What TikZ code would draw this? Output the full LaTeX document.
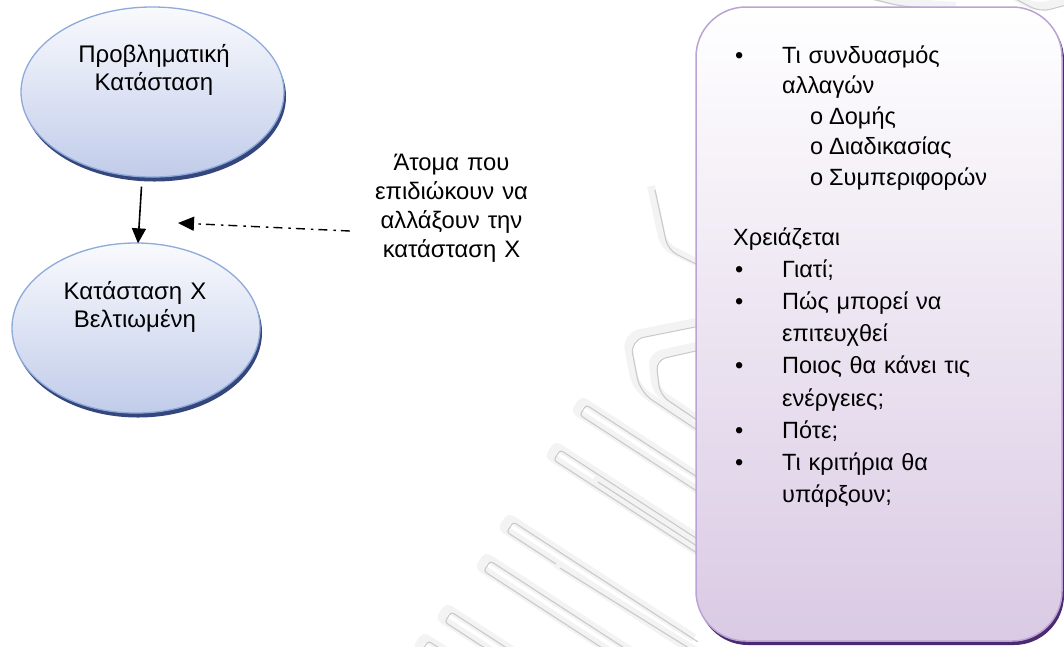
\documentclass[tikz,border=0pt]{standalone}
\usepackage{fontspec}
\setmainfont{Liberation Sans}
\usetikzlibrary{shapes.geometric,arrows.meta,calc}

\definecolor{ellborder}{HTML}{8EAADB}
\definecolor{elltop}{HTML}{F9FAFD}
\definecolor{ellbot}{HTML}{C1CCEA}
\definecolor{ellshade}{HTML}{34467C}
\definecolor{boxborder}{HTML}{BBA3D5}
\definecolor{boxbot}{HTML}{DACAE4}
\definecolor{boxshade}{HTML}{4B2A71}
\definecolor{wmgray}{HTML}{CACACA}
\definecolor{wmhalo}{HTML}{F3F3F3}

% one watermark stroke: a long loop closed at its left end
\newcommand\wmhair[4]{%
  \draw[wmline, shift={(#1,#2)}, rotate=#3] (#4,-6) -- (0,-6) -- (0,6) -- (#4,6);}
% bullet and sub-bullet lead-ins for the requirements list
\newcommand\bul{\makebox[49pt][l]{\hspace{2pt}•}}
\newcommand\cont{\hspace*{49pt}}
\newcommand\subbul{\hspace*{77pt}\makebox[19pt][l]{o}}

\begin{document}
\begin{tikzpicture}[x=1pt,y=-1pt,
  stateell/.style={ellipse, draw=ellborder, line width=1.3pt,
    top color=elltop, bottom color=ellbot, inner sep=0pt},
  notebox/.style={rectangle, rounded corners=50pt, draw=boxborder, line width=1.5pt,
    top color=white, bottom color=boxbot, inner sep=0pt},
  bodytext/.style={font=\fontsize{24}{28}\selectfont, inner sep=0pt, align=center},
  solidarrow/.style={line width=1.6pt, -{Triangle[length=15pt,width=14pt]}},
  dasharrow/.style={line width=1.4pt, dash pattern=on 9pt off 5pt on 2.5pt off 6pt,
    -{Triangle[length=16pt,width=14pt]}},
  wmline/.style={draw=wmgray, line width=1.1pt, rounded corners=3pt,
    preaction={draw=wmhalo, line width=8pt, transform canvas={shift={(-4pt,4pt)}}}}]

\useasboundingbox (0,0) rectangle (1064,646);
\fill[white] (0,0) rectangle (1064,646);

% faint background watermark strokes
\wmhair{583}{410}{-33}{150}
\wmhair{557}{455}{-33}{180}
\wmhair{510}{527}{-33}{220}
\wmhair{487}{566}{-33}{230}
\wmhair{448}{617}{-33}{230}
\wmhair{425}{646}{-33}{200}
\draw[wmline] (598,482) -- (700,548);
\draw[wmline] (560,568) -- (700,655);
\draw[wmline, rounded corners=14pt] (700,326) -- (630,340) -- (640,392) -- (700,432);
\draw[wmline, rounded corners=10pt] (700,350) -- (656,360) -- (660,395) -- (700,422);
\draw[wmline, rounded corners=10pt] (655,190) -- (668,250) -- (700,266);
\draw[wmline, rounded corners=10pt] (860,-4) -- (900,6) -- (960,10);
\draw[wmline, rounded corners=10pt] (1010,-4) -- (1040,12) -- (1070,4);

% state ellipses with their dark lower shadows
\coordinate (c1) at (152.5,92);
\coordinate (c2) at (136,328);
\fill[ellshade] ($(c1)+(2,4.5)$) ellipse [x radius=131.5pt, y radius=85pt];
\fill[ellshade] ($(c2)+(2,4.5)$) ellipse [x radius=124pt, y radius=85pt];
\node[stateell, minimum width=263pt, minimum height=170pt] (e1) at (c1) {};
\node[stateell, minimum width=248pt, minimum height=170pt] (e2) at (c2) {};
\node[bodytext, text width=240pt, anchor=base] (t1) at (154,62)
  {Προβληματική\\Κατάσταση};
\node[bodytext, text width=240pt, anchor=base] (t2) at (135,299)
  {Κατάσταση Χ\\Βελτιωμένη};

% the people trying to change the situation
\node[fill=white, minimum width=212pt, minimum height=147pt, inner sep=0pt] (midbox) at (452,218.5) {};
\node[bodytext, font=\fontsize{23.8}{29}\selectfont, text width=210pt, anchor=base] (midtext) at (451.5,170)
  {Άτομα που\\επιδιώκουν να\\αλλάξουν την\\κατάσταση Χ};

% connectors
\coordinate (dashtip) at (178,223);
\draw[solidarrow] ($(e1.south)+(-11,9)$) -- ($(e2.north)+(2,1)$);
\draw[dasharrow] ($(midbox.west)+(4,12.5)$) -- (dashtip);

% requirements box with its shadow
\coordinate (cr) at (879,324);
\fill[boxshade, rounded corners=50pt] ($(cr)+(-181,-314)$) rectangle ($(cr)+(185,321)$);
\node[notebox, minimum width=366pt, minimum height=634pt] (req) at (cr) {};
\node[font=\fontsize{23.5}{30.5}\selectfont, inner sep=0pt, text width=320pt, align=left,
  anchor=base west] (reqtext) at (733,63)
  {\bul Τι συνδυασμός\\
   \cont αλλαγών\\
   \subbul Δομής\\
   \subbul Διαδικασίας\\
   \subbul Συμπεριφορών\\[29.5pt]
   Χρειάζεται\\[1.7pt]
   \bul Γιατί;\\[1.7pt]
   \bul Πώς μπορεί να\\[1.7pt]
   \cont επιτευχθεί\\[1.7pt]
   \bul Ποιος θα κάνει τις\\[1.7pt]
   \cont ενέργειες;\\[1.7pt]
   \bul Πότε;\\[1.7pt]
   \bul Τι κριτήρια θα\\[1.7pt]
   \cont υπάρξουν;};

\end{tikzpicture}
\end{document}
